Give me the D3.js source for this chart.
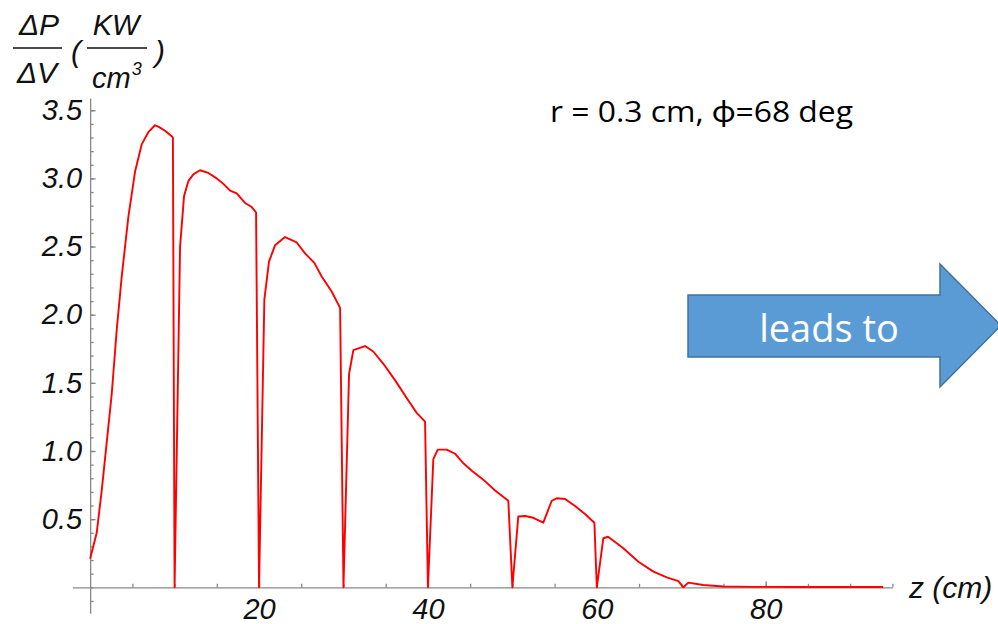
<!DOCTYPE html>
<html>
<head>
<meta charset="utf-8">
<script src="https://cdn.jsdelivr.net/npm/d3@7"></script>
<style>
  body { margin: 0; background: #fff; }
  svg { display: block; }
</style>
</head>
<body>
<svg id="chart"></svg>
<script>
// Data: z (cm) and dP/dV (KW/cm^3)
const zValues = [
  0, 0.78, 1.37, 1.96, 2.56, 3.15, 3.74, 4.53, 5.32, 6.11, 6.9, 7.68, 8.08, 8.87, 9.66, 9.8,
  10.0, 10.65, 11.12, 11.63, 12.22, 13.01, 14.0, 14.99, 15.78, 16.57, 17.36, 18.34, 19.13, 19.65,
  20.0, 20.63, 21.18, 21.9, 23.08, 24.46, 25.45, 26.55, 27.42, 28.6, 29.6,
  30.0, 30.66, 31.17, 32.55, 33.53, 34.72, 36.1, 37.68, 38.67, 39.66,
  40.0, 40.64, 41.16, 42.22, 43.21, 44.2, 45.19, 46.56, 47.95, 49.52,
  50.0, 50.7, 51.5, 52.48, 53.66, 54.66, 55.25, 56.24, 57.42, 58.6, 59.71,
  60.0, 60.77, 61.33, 62.36, 63.14, 64.92, 66.7, 68.28, 69.66,
  70.25, 70.84, 72.6, 75.0, 78.5, 85.0, 93.9
];
const powerValues = [
  0.21, 0.40, 0.71, 1.06, 1.42, 1.89, 2.28, 2.72, 3.05, 3.25, 3.34, 3.39, 3.38, 3.35, 3.31, 3.30,
  0, 2.50, 2.87, 2.98, 3.03, 3.06, 3.04, 3.00, 2.96, 2.91, 2.89, 2.82, 2.79, 2.75,
  0, 2.11, 2.39, 2.51, 2.57, 2.53, 2.45, 2.38, 2.28, 2.17, 2.05,
  0, 1.565, 1.74, 1.77, 1.73, 1.64, 1.52, 1.37, 1.28, 1.215,
  0, 0.94, 1.01, 1.01, 0.98, 0.91, 0.855, 0.79, 0.71, 0.635,
  0, 0.52, 0.523, 0.51, 0.474, 0.635, 0.653, 0.648, 0.596, 0.538, 0.474,
  0, 0.36, 0.371, 0.323, 0.286, 0.188, 0.115, 0.073, 0.046,
  0, 0.034, 0.017, 0.006, 0.003, 0.002, 0.002
];

const xMajorTicks = [20, 40, 60, 80];
const xMinorTicks = d3.range(5, 96, 5);
const yMajorTicks = [0.5, 1.0, 1.5, 2.0, 2.5, 3.0, 3.5];
const yMinorTicks = d3.range(-1, 36).map(d => d / 10);

const width = 998;
const height = 624;

const svg = d3.select("#chart")
    .attr("width", width)
    .attr("height", height);

// Scales
const x = d3.scaleLinear().domain([-2.1, 95]).range([72.4, 892.4]);
const y = d3.scaleLinear().domain([-0.19, 3.59]).range([613.2, 98.0]);

const axisColor = "#888";
const tickFont = "'Liberation Sans', Arial, Helvetica, sans-serif";

// X axis (minor ticks + line)
svg.append("g")
    .attr("transform", `translate(0,${y(0)})`)
    .call(d3.axisBottom(x).tickValues(xMinorTicks).tickSize(-3.5).tickSizeOuter(0).tickFormat(""));

// X axis major ticks with labels
const xMajor = svg.append("g")
    .attr("transform", `translate(0,${y(0)})`)
    .call(d3.axisBottom(x).tickValues(xMajorTicks).tickSize(-6).tickSizeOuter(0).tickPadding(11));
xMajor.select(".domain").remove();

// Y axis (minor ticks + line)
svg.append("g")
    .attr("transform", `translate(${x(0)},0)`)
    .call(d3.axisLeft(y).tickValues(yMinorTicks).tickSize(-3.5).tickSizeOuter(0).tickFormat(""));

// Y axis major ticks with labels
const yMajor = svg.append("g")
    .attr("transform", `translate(${x(0)},0)`)
    .call(d3.axisLeft(y).tickValues(yMajorTicks).tickSize(-5.5).tickSizeOuter(0)
        .tickPadding(8).tickFormat(d3.format(".1f")));
yMajor.select(".domain").remove();

svg.selectAll(".domain, .tick line")
    .attr("stroke", axisColor)
    .attr("stroke-width", 1.3);

svg.selectAll(".tick text")
    .attr("fill", "#111")
    .attr("font-family", tickFont)
    .attr("font-style", "italic")
    .attr("font-size", 29);

// Curve
const points = zValues.map((z, i) => [z, powerValues[i]]);
const line = d3.line()
    .x(d => x(d[0]))
    .y(d => y(d[1]));

svg.append("path")
    .datum(points)
    .attr("fill", "none")
    .attr("stroke", "#ff0000")
    .attr("stroke-width", 1.9)
    .attr("stroke-linejoin", "round")
    .attr("d", line);

// X axis label
svg.append("text")
    .attr("x", 909)
    .attr("y", 598)
    .attr("font-family", tickFont)
    .attr("font-style", "italic")
    .attr("font-size", 30)
    .attr("fill", "#111")
    .text("z (cm)");

// Y axis label: dP/dV (KW/cm^3)
const ylab = svg.append("g")
    .attr("font-family", tickFont)
    .attr("font-style", "italic")
    .attr("fill", "#111");

ylab.append("text").attr("x", 39).attr("y", 35).attr("text-anchor", "middle")
    .attr("font-size", 30).text("ΔP");
ylab.append("line").attr("x1", 13).attr("x2", 62).attr("y1", 48).attr("y2", 48)
    .attr("stroke", "#111").attr("stroke-width", 1.4);
ylab.append("text").attr("x", 37).attr("y", 83).attr("text-anchor", "middle")
    .attr("font-size", 30).text("ΔV");

ylab.append("text").attr("x", 71).attr("y", 62).attr("font-size", 30).text("(");
ylab.append("text").attr("x", 116).attr("y", 35).attr("text-anchor", "middle")
    .attr("font-size", 29).text("KW");
ylab.append("line").attr("x1", 87).attr("x2", 147).attr("y1", 48).attr("y2", 48)
    .attr("stroke", "#111").attr("stroke-width", 1.4);
const cm = ylab.append("text").attr("x", 92).attr("y", 88).attr("font-size", 29);
cm.append("tspan").text("cm");
cm.append("tspan").attr("font-size", 18).attr("dy", -13).attr("dx", 1).text("3");
ylab.append("text").attr("x", 155).attr("y", 62).attr("font-size", 30).text(")");

// Annotation
svg.append("text")
    .attr("x", 550)
    .attr("y", 122)
    .attr("font-family", "'Open Sans', Lato, sans-serif")
    .attr("font-size", 30)
    .attr("textLength", 303)
    .attr("lengthAdjust", "spacingAndGlyphs")
    .attr("fill", "#000")
    .text("r = 0.3 cm, ϕ=68 deg");

// "leads to" arrow
const arrow = svg.append("g");
arrow.append("path")
    .attr("d", "M688,295 L940,295 L940,264 L1001,325.5 L940,387 L940,357 L688,357 Z")
    .attr("fill", "#5b9bd5")
    .attr("stroke", "#41719c")
    .attr("stroke-width", 1.5);
arrow.append("text")
    .attr("x", 829)
    .attr("y", 342)
    .attr("text-anchor", "middle")
    .attr("font-family", "'Open Sans', Lato, sans-serif")
    .attr("font-size", 38)
    .attr("fill", "#fff")
    .text("leads to");
</script>
</body>
</html>
